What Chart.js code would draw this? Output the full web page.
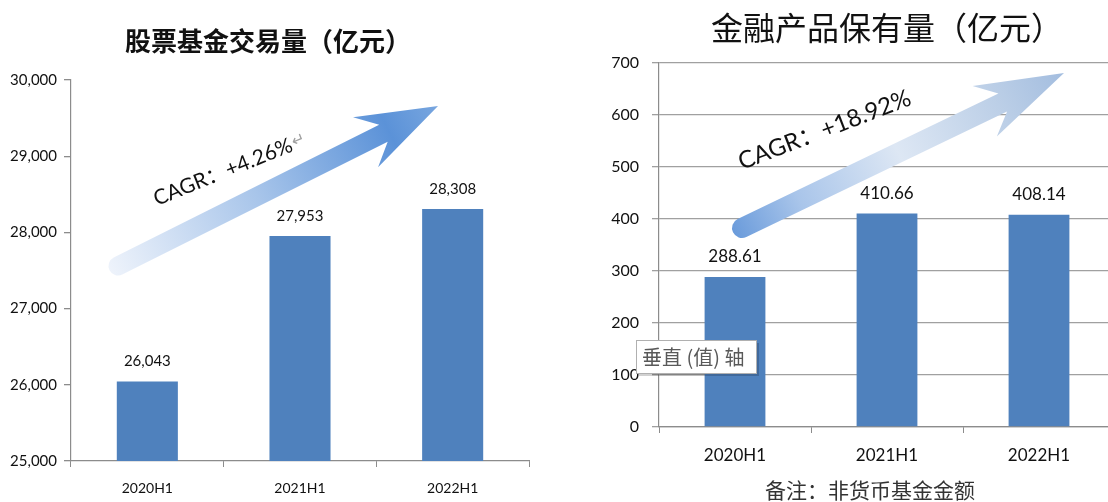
<!DOCTYPE html>
<html>
<head>
<meta charset="utf-8">
<script src="https://cdn.jsdelivr.net/npm/chart.js@4.4.0/dist/chart.umd.min.js"></script>
<style>
    html, body { margin: 0; padding: 0; background: #fff; overflow: hidden; }
    #wrap { position: relative; width: 1108px; height: 502px; overflow: hidden; }
    #left { position: absolute; left: 0; top: 0; }
    #right { position: absolute; left: 560px; top: 0; }
</style>
</head>
<body>
<div id="wrap">
    <canvas id="left"></canvas>
    <canvas id="right"></canvas>
</div>
<script>
// data
const periods = ['2020H1', '2021H1', '2022H1'];
const tradeVolume = [26043, 27953, 28308];      // 股票基金交易量（亿元）
const productHoldings = [288.61, 410.66, 408.14]; // 金融产品保有量（亿元）
const tradeAxis = [25000, 30000, 1000];  // min, max, step
const holdAxis = [0, 700, 100];

const BAR_BLUE = '#4F81BD';
const AXIS_GREY = '#8c8c8c';
const NUM_FONT = 'Lato, "Noto Sans", sans-serif';
const CJK_FONT = '"Noto Sans CJK SC", sans-serif';

function drawArrow(ctx, a) {
    const dx = a.tip[0] - a.tail[0], dy = a.tip[1] - a.tail[1];
    const L = Math.sqrt(dx * dx + dy * dy);
    ctx.save();
    ctx.translate(a.tail[0], a.tail[1]);
    ctx.rotate(Math.atan2(dy, dx));
    let g = ctx.createLinearGradient(-a.half, 0, L, 0);
    a.stops.forEach(s => g.addColorStop(s[0], s[1]));
    ctx.fillStyle = g;
    ctx.beginPath();
    ctx.moveTo(0, -a.half);
    ctx.lineTo(L - a.notch, -a.half);
    ctx.lineTo(L - a.barb, -a.barbHalf);
    ctx.lineTo(L, 0);
    ctx.lineTo(L - a.barb, a.barbHalf);
    ctx.lineTo(L - a.notch, a.half);
    ctx.lineTo(0, a.half);
    ctx.arc(0, 0, a.half, Math.PI / 2, Math.PI * 1.5);
    ctx.closePath();
    ctx.fill();
    ctx.restore();
}

const decoPlugin = {
    id: 'deco',
    beforeDatasetsDraw(chart, args, o) {
        if (o.arrow) drawArrow(chart.ctx, o.arrow);
    },
    afterDraw(chart, args, o) {
        const ctx = chart.ctx;
        ctx.save();
        // value labels on top of the bars
        const meta = chart.getDatasetMeta(0);
        ctx.fillStyle = '#111';
        ctx.font = o.valueFont;
        ctx.textAlign = 'center';
        ctx.textBaseline = 'middle';
        meta.data.forEach((bar, i) => {
            ctx.fillText(o.fmt(chart.data.datasets[0].data[i]), bar.x, bar.y - 20);
        });
        // title
        ctx.font = o.titleFont;
        ctx.fillStyle = '#111';
        ctx.fillText(o.title, o.titlePos[0], o.titlePos[1]);
        // CAGR note along the arrow
        ctx.save();
        ctx.translate(o.cagrPos[0], o.cagrPos[1]);
        ctx.rotate(o.cagrAngle * Math.PI / 180);
        ctx.textAlign = 'left';
        ctx.textBaseline = 'alphabetic';
        ctx.font = o.cagrFont;
        ctx.fillStyle = '#111';
        ctx.fillText(o.cagr, 0, 0);
        if (o.paraMark) {
            const w = ctx.measureText(o.cagr).width;
            ctx.font = '16px ' + CJK_FONT;
            ctx.fillStyle = '#a0a0a0';
            ctx.fillText('↵', w + 1, -4);
        }
        ctx.restore();
        // footnote
        if (o.note) {
            ctx.font = '21px ' + CJK_FONT;
            ctx.fillStyle = '#333';
            ctx.fillText(o.note, o.notePos[0], o.notePos[1]);
        }
        // axis hover label left in the screenshot
        if (o.box) {
            const b = o.box;
            ctx.fillStyle = 'rgba(0,0,0,0.18)';
            ctx.fillRect(b.x + 3, b.y + 3, b.w, b.h);
            ctx.fillStyle = '#fff';
            ctx.fillRect(b.x, b.y, b.w, b.h);
            ctx.strokeStyle = '#b0b0b0';
            ctx.lineWidth = 1;
            ctx.strokeRect(b.x + 0.5, b.y + 0.5, b.w, b.h);
            ctx.font = '20px ' + CJK_FONT;
            ctx.fillStyle = '#595959';
            ctx.textAlign = 'left';
            ctx.fillText(b.text, b.x + 6, b.y + b.h / 2 + 1);
        }
        ctx.restore();
    }
};

function makeChart(id, w, values, range, opts) {
    const cv = document.getElementById(id);
    cv.style.width = w + 'px';
    cv.style.height = '502px';
    cv.width = w;
    cv.height = 502;
    return new Chart(cv, {
        type: 'bar',
        data: {
            labels: periods,
            datasets: [{
                data: values,
                backgroundColor: BAR_BLUE,
                borderWidth: 0,
                categoryPercentage: 1,
                barPercentage: 0.4
            }]
        },
        options: {
            responsive: false,
            animation: false,
            layout: { padding: opts.padding },
            plugins: {
                legend: { display: false },
                tooltip: { enabled: false },
                deco: opts.deco
            },
            scales: {
                x: {
                    grid: { offset: true, drawOnChartArea: false, color: AXIS_GREY, tickLength: 6 },
                    border: { color: AXIS_GREY, width: 1.2 },
                    ticks: { font: { family: NUM_FONT, size: opts.catSize }, color: '#111', padding: opts.catPad },
                    afterFit(s) { s.height = opts.xHeight; }
                },
                y: {
                    min: range[0],
                    max: range[1],
                    ticks: {
                        stepSize: range[2],
                        font: { family: NUM_FONT, size: opts.tickSize },
                        color: '#111',
                        padding: opts.tickPad,
                        callback: v => v.toLocaleString('en-US')
                    },
                    grid: { drawOnChartArea: opts.grid, color: opts.gridColor, lineWidth: 1.3, tickLength: 7 },
                    border: { color: AXIS_GREY, width: 1.2 },
                    afterFit(s) { s.width = opts.yWidth; }
                }
            }
        },
        plugins: [decoPlugin]
    });
}

makeChart('left', 560, tradeVolume, tradeAxis, {
    padding: { top: 80, right: 31, left: 0, bottom: 0 },
    xHeight: 41, yWidth: 71,
    catSize: 14, catPad: 13, tickSize: 15, tickPad: 7,
    grid: false, gridColor: AXIS_GREY,
    deco: {
        fmt: v => v.toLocaleString('en-US'),
        valueFont: '15px ' + NUM_FONT,
        title: '股票基金交易量（亿元）',
        titleFont: 'bold 26px ' + CJK_FONT,
        titlePos: [268, 41],
        cagr: 'CAGR：+4.26%',
        cagrFont: '21px ' + NUM_FONT + ', ' + CJK_FONT,
        cagrPos: [157, 206],
        cagrAngle: -22,
        paraMark: true,
        arrow: {
            tail: [118, 266], tip: [438, 106],
            half: 9.5, notch: 61, barb: 81, barbHalf: 28,
            stops: [[0, '#eef3fb'], [0.45, '#a8c5ea'], [0.85, '#5b92d8'], [1, '#78a6df']]
        }
    }
});

makeChart('right', 560, productHoldings, holdAxis, {
    padding: { top: 63, right: 5, left: 0, bottom: 0 },
    xHeight: 75, yWidth: 99,
    catSize: 17, catPad: 12, tickSize: 16, tickPad: 13,
    grid: true, gridColor: '#a0a0a0',
    deco: {
        fmt: v => v.toFixed(2),
        valueFont: '17px ' + NUM_FONT,
        title: '金融产品保有量（亿元）',
        titleFont: '32px ' + CJK_FONT,
        titlePos: [327, 28],
        cagr: 'CAGR：+18.92%',
        cagrFont: '24px ' + NUM_FONT + ', ' + CJK_FONT,
        cagrPos: [182, 170],
        cagrAngle: -21,
        note: '备注：非货币基金金额',
        notePos: [310, 490],
        box: { x: 76, y: 340, w: 120, h: 33, text: '垂直 (值) 轴' },
        arrow: {
            tail: [182, 228], tip: [504, 73],
            half: 10, notch: 68, barb: 88, barbHalf: 28,
            stops: [[0, '#6a9bdb'], [0.2, '#a9c5ea'], [0.5, '#dde7f4'], [0.8, '#bccfe7'], [1, '#a3bddf']]
        }
    }
});
</script>
</body>
</html>
